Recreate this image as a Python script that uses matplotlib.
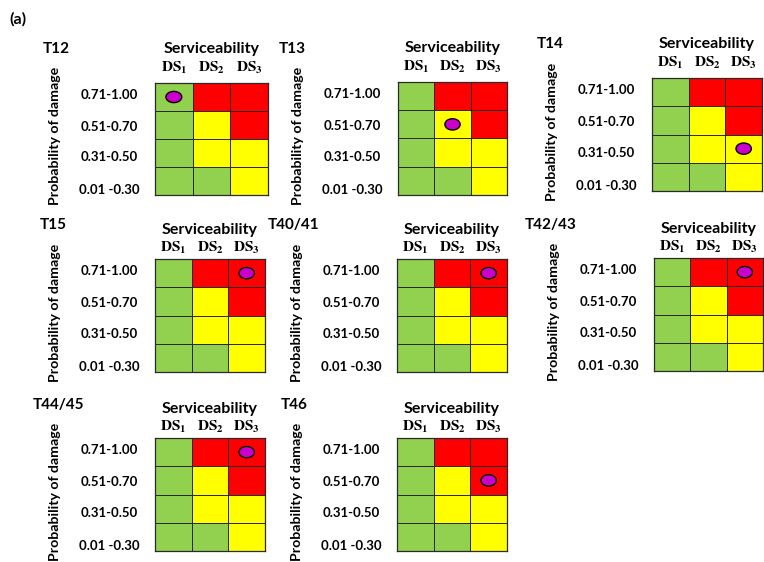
import numpy as np
import matplotlib
matplotlib.use("Agg")
import matplotlib.pyplot as plt
from matplotlib.colors import ListedColormap
from matplotlib.patches import Ellipse
from matplotlib.transforms import offset_copy

# ---------------- data ----------------
panel_names = ['T12', 'T13', 'T14', 'T15', 'T40/41', 'T42/43', 'T44/45', 'T46']
row_labels = ['0.71-1.00', '0.51-0.70', '0.31-0.50', '0.01 -0.30']
col_labels = [r'$\mathbf{DS}_\mathbf{1}$', r'$\mathbf{DS}_\mathbf{2}$', r'$\mathbf{DS}_\mathbf{3}$']
# risk level per cell, rows top->bottom (0=green, 1=yellow, 2=red)
risk_matrix = [[0, 2, 2],
               [0, 1, 2],
               [0, 1, 1],
               [0, 0, 1]]
marker_col = [0, 1, 2, 2, 2, 2, 2, 2]
marker_row = [0, 1, 2, 0, 0, 0, 0, 1]
level_colors = ['#92D050', '#FFFF00', '#FF0000']

# ---------------- layout (pixels) ----------------
W, H = 764, 562
grid_boxes = [(155, 83, 268, 195), (398, 82, 507, 195), (652, 78, 762, 191),
              (155, 259, 265, 372), (397, 259, 507, 372), (654, 258, 763, 371),
              (155, 438, 265, 551), (397, 438, 507, 551)]
title_pos = [(43, 49), (279, 49), (537, 44), (40, 225), (268, 225), (525, 225),
             (33, 405), (281, 405)]
row_label_y = [0.43, 1.56, 2.66, 3.82]

plt.rcParams['mathtext.fontset'] = 'stix'
fig = plt.figure(figsize=(W / 100, H / 100), dpi=100)
SANS = 'Lato'

cmap = ListedColormap(level_colors)
for k, name in enumerate(panel_names):
    L, T, R, B = grid_boxes[k]
    ax = fig.add_axes([L / W, 1 - B / H, (R - L) / W, (B - T) / H])
    ax.pcolormesh(np.array(risk_matrix), cmap=cmap, vmin=-0.5, vmax=2.5,
                  edgecolors='#2a2a2a', linewidth=0.65)
    ax.set_xlim(0, 3)
    ax.set_ylim(4, 0)
    ax.set_xticks([]); ax.set_yticks([])
    for s in ax.spines.values():
        s.set_color('#2a2a2a'); s.set_linewidth(0.9)
    ax.add_patch(Ellipse((marker_col[k] + 0.5, marker_row[k] + 0.5), 0.42, 0.40,
                         facecolor='#CC00CC', edgecolor='black', linewidth=1.0, zorder=5))
    top = k < 3
    ds_off, sv_off = (15, 34) if top else (11, 29)
    for j, lab in enumerate(col_labels):
        tr = offset_copy(ax.transData, fig=fig, x=0, y=ds_off, units='dots')
        ax.text(j + 0.5, 0, lab, transform=tr, ha='center', va='center', fontsize=11)
    tr = offset_copy(ax.transData, fig=fig, x=0, y=sv_off, units='dots')
    ax.text(1.5, 0, 'Serviceability', transform=tr, ha='center', va='center',
            fontsize=11.5, fontweight='bold', family=SANS)
    for i, lab in enumerate(row_labels):
        tr = offset_copy(ax.transData, fig=fig, x=-46, y=0, units='dots')
        ax.text(0, row_label_y[i], lab, transform=tr, ha='center', va='center',
                fontsize=9.5, fontweight='bold', family=SANS)
    tr = offset_copy(ax.transData, fig=fig, x=-100, y=3, units='dots')
    ax.text(0, 2, 'Probability of damage', transform=tr, ha='center', va='center',
            rotation=90, fontsize=10.2, fontweight='bold', family=SANS, clip_on=False)
    tx, ty = title_pos[k]
    fig.text(tx / W, 1 - ty / H, name, ha='left', va='center', fontsize=11,
             fontweight='bold', family=SANS)

fig.text(9 / W, 1 - 19 / H, '(a)', ha='left', va='center', fontsize=11.5,
         fontweight='bold', family=SANS)

fig.savefig('out.png', dpi=100)
